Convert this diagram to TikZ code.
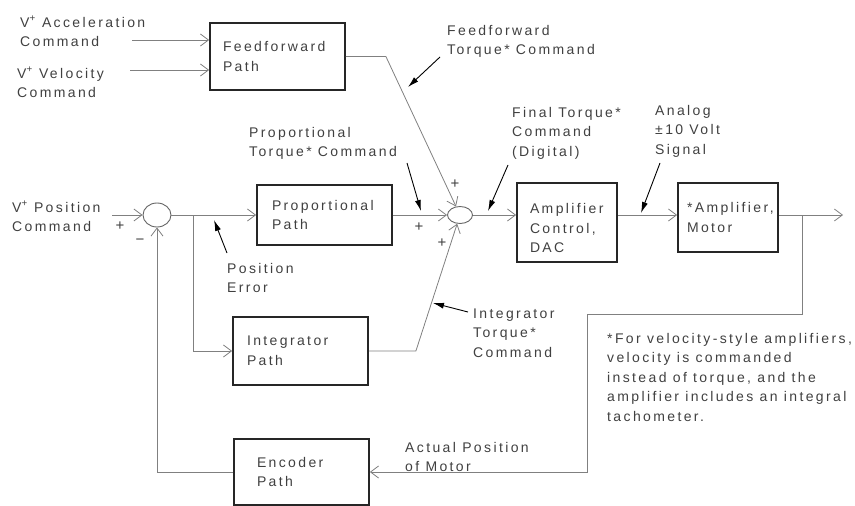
\documentclass[tikz,border=0pt]{standalone}
\usepackage{fontspec}
\setmainfont{Liberation Sans}[LetterSpace=17]
\usetikzlibrary{arrows.meta,shapes.geometric}
\hyphenpenalty=10000
\exhyphenpenalty=10000
\begin{document}
\begin{tikzpicture}[x=1pt,y=-1pt,
  font=\fontsize{14}{19.5}\selectfont,
  txt/.style={anchor=base west,inner sep=0pt,align=left,text=black!75},
  blk/.style={draw=black!85,line width=1.8pt,align=left,text=black!75,inner ysep=0pt},
  sig/.style={draw=black!50,line width=0.8pt},
  sigarr/.style={sig,-{Straight Barb[length=8pt,width=12pt,line width=0.8pt]}},
  ann/.style={draw=black,line width=0.9pt,-{Latex[length=11pt,width=6pt]}},
  sumj/.style={draw=black!60,line width=0.9pt,ellipse,inner sep=0pt},
  sgn/.style={inner sep=0pt,text=black!75,font=\fontsize{15}{15}\selectfont}
]
\useasboundingbox (0,0) rectangle (855,506);

% blocks
\node[blk, minimum height=67pt, text width=109pt, inner xsep=13pt] (ff) at (277.5,56.5) {Feedforward\\Path};
\node[blk, minimum height=60pt, text width=105pt, inner xsep=15pt] (prop) at (324.5,215) {Proportional\\Path};
\node[blk, minimum height=68pt, text width=107pt, inner xsep=14pt] (integ) at (300.5,351) {Integrator\\Path};
\node[blk, minimum height=79pt, text width=74pt, inner xsep=13pt] (amp) at (567,222.5) {\rule{0pt}{22pt}Amplifier\\Control,\\DAC};
\node[blk, minimum height=69pt, text width=82pt, inner xsep=9pt] (motor) at (728,217.5) {*Amplifier,\\Motor};
\node[blk, minimum height=66pt, text width=89pt, inner xsep=23pt] (enc) at (301.5,472) {Encoder\\Path};

% summing junctions
\node[sumj, minimum width=28pt, minimum height=24pt] (s1) at (157,215) {};
\node[sumj, minimum width=25pt, minimum height=17pt] (s2) at (460,215) {};

% free ends and bends
\coordinate (accin) at (132,40);
\coordinate (velin) at (130,70);
\coordinate (posin) at (112,215);
\coordinate (ffk) at ([xshift=40pt]ff.east);
\coordinate (br1) at (193,215);
\coordinate (intk) at ([xshift=47pt]integ.east);
\coordinate (outend) at (843,215);
\coordinate (fb1) at (802,215);
\coordinate (fb2) at (802,314);
\coordinate (fb3) at (587,314);

% signal connectors
\draw[sigarr] (accin) -- (accin -| ff.west);
\draw[sigarr] (velin) -- (velin -| ff.west);
\draw[sigarr] (posin) -- (s1.west);
\draw[sigarr] (s1.east) -- (prop.west);
\draw[sigarr] (br1) |- (integ.west);
\draw[sigarr] (prop.east) -- (s2.west);
\draw[sigarr] (ff.east) -- (ffk) -- (s2);
\draw[sigarr] (integ.east) -- (intk) -- (s2);
\draw[sigarr] (s2.east) -- (s2.east -| amp.west);
\draw[sigarr] (s2.east -| amp.east) -- (s2.east -| motor.west);
\draw[sigarr] (s2.east -| motor.east) -- (outend);
\draw[sigarr] (fb1) -- (fb2) -- (fb3) |- (enc.east);
\draw[sigarr] (enc.west) -| (s1.south);

% signs
\node[sgn] (p1) at (120,226) {+};
\node[sgn] (m1) at (140,242) {−};
\node[sgn] (p2) at (455,184) {+};
\node[sgn] (p3) at (419,227) {+};
\node[sgn] (p4) at (442,243) {+};

% labels (anchored at the baseline of the last line)
\node[txt] (lacc) at (20,46.5) {V\textsuperscript{+} Acceleration\\Command};
\node[txt] (lvel) at (17,97.5) {V\textsuperscript{+} Velocity\\Command};
\node[txt] (lpos) at (12,231.5) {V\textsuperscript{+} Position\\Command};
\node[txt] (lff) at (447,54.5) {Feedforward\\Torque* Command};
\node[txt] (lprop) at (249,156.5) {Proportional\\Torque* Command};
\node[txt] (lfin) at (512,156) {Final Torque*\\Command\\(Digital)};
\node[txt] (lana) at (655,154) {Analog\\±10 Volt\\Signal};
\node[txt] (lerr) at (227,292.5) {Position\\Error};
\node[txt] (lint) at (473,357) {Integrator\\Torque*\\Command};
\node[txt] (lact) at (405,471.5) {Actual Position\\of Motor};
\node[txt] (lnote) at (607,421) {*For velocity-style amplifiers,\\velocity is commanded\\instead of torque, and the\\amplifier includes an integral\\tachometer.};

% annotation arrows
\coordinate (a1s) at (440,57);  \coordinate (a1e) at (408,87);
\coordinate (a2s) at (407,163); \coordinate (a2e) at (421,211);
\coordinate (a3s) at (508,165); \coordinate (a3e) at (488,211);
\coordinate (a4s) at (660,163); \coordinate (a4e) at (641,213);
\coordinate (a5s) at (227,253); \coordinate (a5e) at (214,220);
\coordinate (a6s) at (468,312); \coordinate (a6e) at (433,303);
\draw[ann] (a1s) -- (a1e);
\draw[ann] (a2s) -- (a2e);
\draw[ann] (a3s) -- (a3e);
\draw[ann] (a4s) -- (a4e);
\draw[ann] (a5s) -- (a5e);
\draw[ann] (a6s) -- (a6e);
\end{tikzpicture}
\end{document}
